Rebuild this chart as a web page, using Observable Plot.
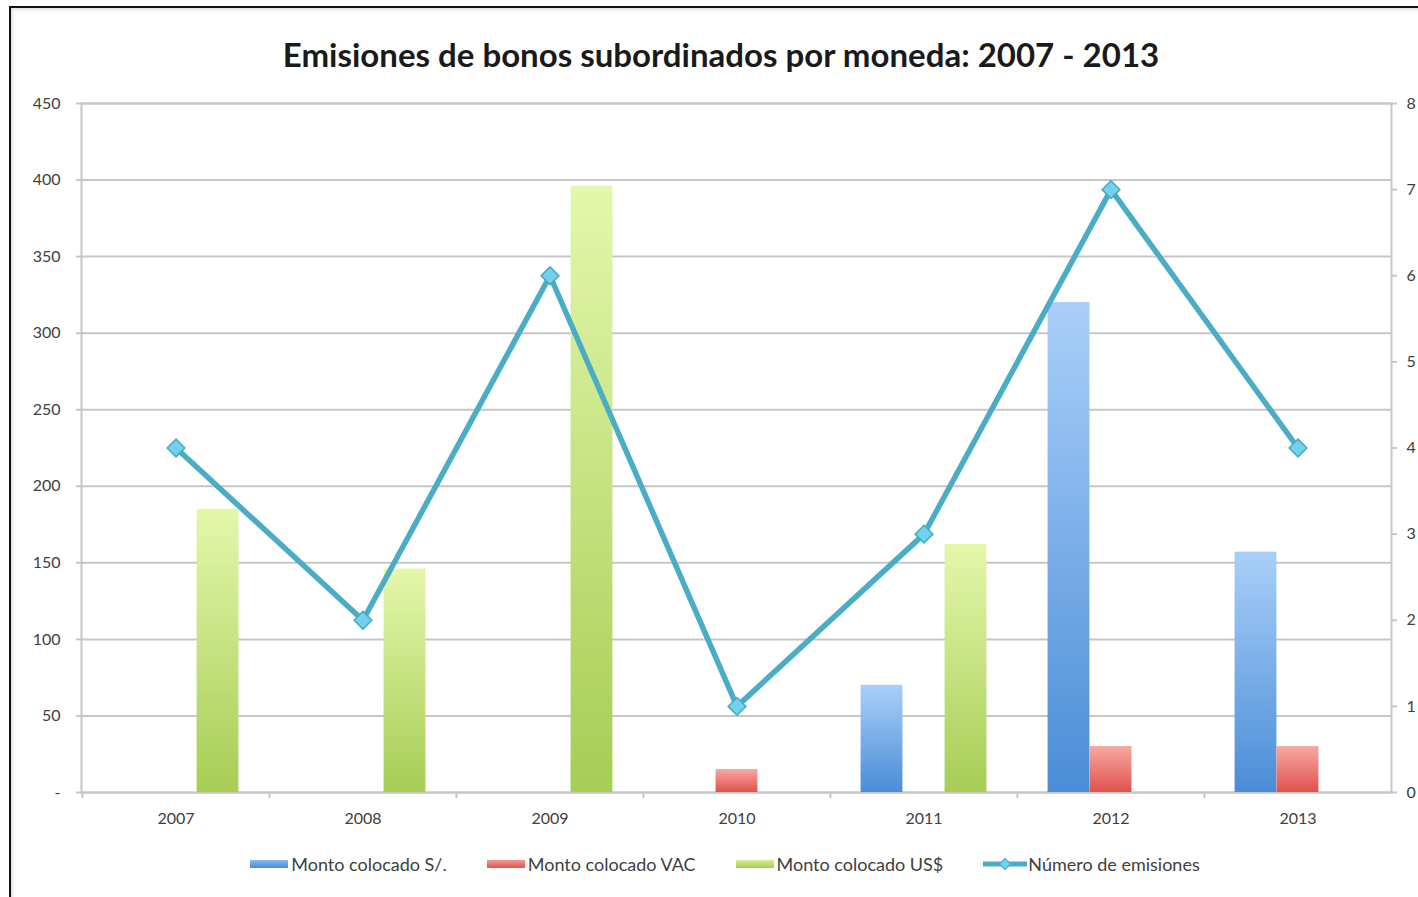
<!DOCTYPE html>
<html>
<head>
<meta charset="utf-8">
<script src="https://cdn.jsdelivr.net/npm/d3@7"></script>
<script src="https://cdn.jsdelivr.net/npm/@observablehq/plot@0.6"></script>
<style>
  html, body { margin: 0; padding: 0; background: #fff; }
  #wrap { position: relative; width: 1418px; height: 897px; overflow: hidden; font-family: Lato, "Open Sans", sans-serif; }
  #frame { position: absolute; left: 9px; top: 6px; width: 1500px; height: 1000px; border-left: 2px solid #111; border-top: 2px solid #111; box-shadow: inset 2px 2px 3px rgba(0,0,0,0.12); }
  #title { position: absolute; left: 12px; width: 1418px; top: 36px; text-align: center; font-weight: 700; font-size: 33px; line-height: 36px; color: #1a1a1a; }
  #chart { position: absolute; left: 0; top: 90px; }
  #legend { position: absolute; left: 0; width: 1450px; top: 853px; display: flex; justify-content: center; align-items: center; font-size: 18px; color: #404040; }
  .item { display: flex; align-items: center; margin: 0 20px; }
  .sw { width: 38px; height: 8px; margin-right: 3px; }
</style>
</head>
<body>
<svg width="0" height="0" style="position:absolute">
  <defs>
    <linearGradient id="gBlue" x1="0" y1="0" x2="0" y2="1">
      <stop offset="0" stop-color="#a9cff9"/>
      <stop offset="1" stop-color="#4a8dd7"/>
    </linearGradient>
    <linearGradient id="gRed" x1="0" y1="0" x2="0" y2="1">
      <stop offset="0" stop-color="#f8a8a2"/>
      <stop offset="1" stop-color="#e0524d"/>
    </linearGradient>
    <linearGradient id="gGreen" x1="0" y1="0" x2="0" y2="1">
      <stop offset="0" stop-color="#e4f7ab"/>
      <stop offset="1" stop-color="#a6cd55"/>
    </linearGradient>
  </defs>
</svg>
<div id="wrap">
  <div id="frame"></div>
  <div id="title">Emisiones de bonos subordinados por moneda: 2007 - 2013</div>
  <div id="chart"></div>
  <div id="legend">
    <div class="item"><div class="sw" style="background:linear-gradient(#8ab8ee,#4a8dd7)"></div>Monto colocado S/.</div>
    <div class="item"><div class="sw" style="background:linear-gradient(#f39a94,#e0524d)"></div>Monto colocado VAC</div>
    <div class="item"><div class="sw" style="background:linear-gradient(#d4ef8e,#a6cd55)"></div>Monto colocado US$</div>
    <div class="item"><svg width="44" height="12" style="margin-right:1px"><line x1="0" y1="6" x2="44" y2="6" stroke="#4bacc6" stroke-width="5"/><rect x="18" y="2" width="8" height="8" transform="rotate(45 22 6)" fill="#71d2ee" stroke="#45aac4" stroke-width="1"/></svg>Número de emisiones</div>
  </div>
</div>
<script>
// ---- data ----
const years = ["2007", "2008", "2009", "2010", "2011", "2012", "2013"];
const montoSoles = [0, 0, 0, 0, 70, 320, 157];
const montoVAC = [0, 0, 0, 15, 0, 30, 30];
const montoUSD = [185, 146, 396, 0, 162, 0, 0];
const numEmisiones = [4, 2, 6, 1, 3, 7, 4];
const leftTicks = [0, 50, 100, 150, 200, 250, 300, 350, 400, 450];
const rightTicks = [0, 1, 2, 3, 4, 5, 6, 7, 8];

const W = 1418, H = 755;
const mL = 81, mR = 27, mT = 13, mB = 53;
const yMax = 450, y2Max = 8;
const K = yMax / y2Max;

const bw = (W - mL - mR) / years.length; // band width
const barW = 42;
function insets(i) {
  const left = bw / 2 - 1.5 * barW + i * barW;
  return {insetLeft: left, insetRight: bw - left - barW};
}

const bars = [];
years.forEach((yr, j) => {
  bars.push({year: yr, serie: "S/.", value: montoSoles[j]});
  bars.push({year: yr, serie: "VAC", value: montoVAC[j]});
  bars.push({year: yr, serie: "US$", value: montoUSD[j]});
});
const lineData = years.map((yr, j) => ({year: yr, n: numEmisiones[j]}));

const grid = "#c6c6c6";
const txt = "#404040";

const plot = Plot.plot({
  width: W, height: H,
  marginLeft: mL, marginRight: mR, marginTop: mT, marginBottom: mB,
  style: {fontFamily: "Lato, 'Open Sans', sans-serif", fontSize: "16px", color: txt, background: "transparent", overflow: "visible"},
  x: {type: "band", domain: years, paddingInner: 0, paddingOuter: 0, label: null},
  y: {domain: [0, yMax], label: null},
  marks: [
    Plot.gridY(leftTicks, {stroke: grid, strokeOpacity: 1, strokeWidth: 2}),
    Plot.frame({stroke: grid, strokeWidth: 2}),
    Plot.ruleX(years, {x: d => d, dx: -bw / 2, y1: 0, y2: 0, insetBottom: -6, stroke: grid, strokeWidth: 2}),
    Plot.axisY(leftTicks, {anchor: "left", tickSize: 5, tickPadding: 16, tickFormat: d => d === 0 ? "-" : String(d), stroke: grid, fill: txt, strokeWidth: 2, label: null}),
    Plot.axisY(rightTicks.map(k => k * K), {anchor: "right", tickSize: 5, tickPadding: 10, tickFormat: d => String(Math.round(d / K)), stroke: grid, fill: txt, strokeWidth: 2, label: null}),
    Plot.axisX({tickSize: 0, tickPadding: 20, fill: txt, label: null}),
    Plot.barY(bars.filter(d => d.serie === "S/." && d.value > 0), {x: "year", y: "value", fill: "url(#gBlue)", ...insets(0)}),
    Plot.barY(bars.filter(d => d.serie === "VAC" && d.value > 0), {x: "year", y: "value", fill: "url(#gRed)", ...insets(1)}),
    Plot.barY(bars.filter(d => d.serie === "US$" && d.value > 0), {x: "year", y: "value", fill: "url(#gGreen)", ...insets(2)}),
    Plot.line(lineData, {x: "year", y: d => d.n * K, stroke: "#4bacc6", strokeWidth: 5.5}),
    Plot.dot(lineData, {x: "year", y: d => d.n * K, symbol: "diamond2", r: 8, fill: "#71d2ee", stroke: "#45aac4", strokeWidth: 1.5})
  ]
});
document.getElementById("chart").appendChild(plot);
</script>
</body>
</html>
